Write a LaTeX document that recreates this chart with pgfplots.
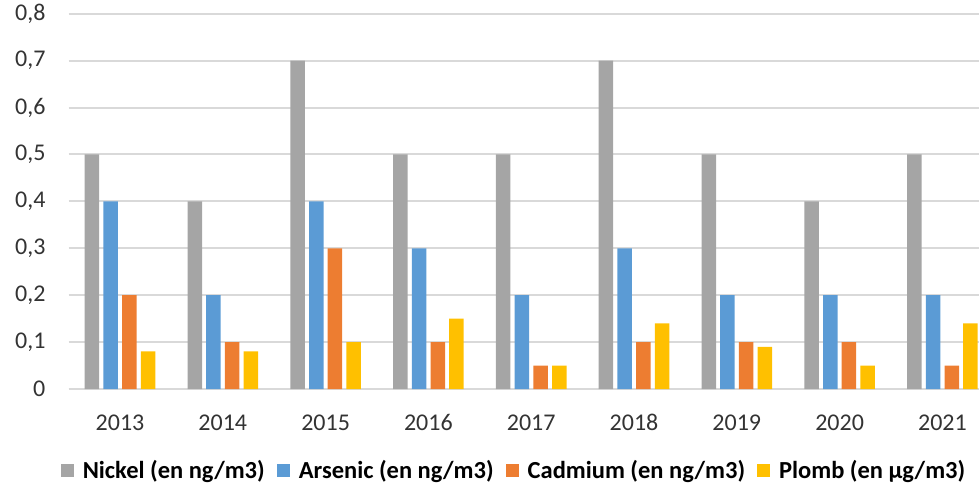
\documentclass[border=0pt]{standalone}
\usepackage{pgfplots}
\pgfplotsset{compat=1.18}
\usepackage{fontspec}
\setmainfont{Carlito}
\definecolor{cNi}{HTML}{A5A5A5}
\definecolor{cAs}{HTML}{5B9BD5}
\definecolor{cCd}{HTML}{ED7D31}
\definecolor{cPb}{HTML}{FFC000}
\definecolor{grid}{HTML}{D9D9D9}
\definecolor{txt}{HTML}{333333}
\begin{document}
\begin{tikzpicture}
\useasboundingbox (-68.6bp,-99bp) rectangle (910.4bp,389bp);
\begin{axis}[
  at={(0,0)}, anchor=south west,
  scale only axis,
  x=102.8bp, y=469bp,
  xmin=-0.5, xmax=8.36, ymin=0, ymax=0.8,
  clip=true,
  ybar=4.2bp, bar width=14.5bp,
  axis x line*=bottom, axis y line*=left,
  x axis line style={draw=grid, line width=2bp, -},
  y axis line style={draw=none},
  ymajorgrids, grid style={draw=grid, line width=2bp},
  major tick length=0pt,
  xtick={0,...,8},
  xticklabels={2013,2014,2015,2016,2017,2018,2019,2020,2021},
  ytick={0,0.1,0.2,0.3,0.4,0.5,0.6,0.7,0.8},
  yticklabel={\pgfmathprintnumber[use comma,fixed,precision=1,assume math mode=true]{\tick}},
  ticklabel style={font=\fontsize{24bp}{27bp}\selectfont, text=txt},
  yticklabel style={anchor=east, inner sep=0pt, xshift=-23bp},
  xticklabel style={anchor=base, inner sep=0pt, yshift=-41bp},
  legend columns=-1,
  legend style={at={(445.4bp,-81bp)}, anchor=center, draw=none, fill=none,
    font=\fontsize{24.5bp}{27bp}\selectfont\bfseries,
    /tikz/every even column/.append style={column sep=10bp},
    /tikz/every odd column/.append style={column sep=7bp}},
  legend image code/.code={\fill[#1] (0bp,-6.5bp) rectangle (13bp,6.5bp);},
]
\addplot[fill=cNi, draw=none] coordinates {(0,0.5)(1,0.4)(2,0.7)(3,0.5)(4,0.5)(5,0.7)(6,0.5)(7,0.4)(8,0.5)};
\addplot[fill=cAs, draw=none] coordinates {(0,0.4)(1,0.2)(2,0.4)(3,0.3)(4,0.2)(5,0.3)(6,0.2)(7,0.2)(8,0.2)};
\addplot[fill=cCd, draw=none] coordinates {(0,0.2)(1,0.1)(2,0.3)(3,0.1)(4,0.05)(5,0.1)(6,0.1)(7,0.1)(8,0.05)};
\addplot[fill=cPb, draw=none] coordinates {(0,0.08)(1,0.08)(2,0.1)(3,0.15)(4,0.05)(5,0.14)(6,0.09)(7,0.05)(8,0.14)};
\legend{Nickel (en ng/m3), Arsenic (en ng/m3), Cadmium (en ng/m3), Plomb (en µg/m3)}
\end{axis}
\end{tikzpicture}
\end{document}
